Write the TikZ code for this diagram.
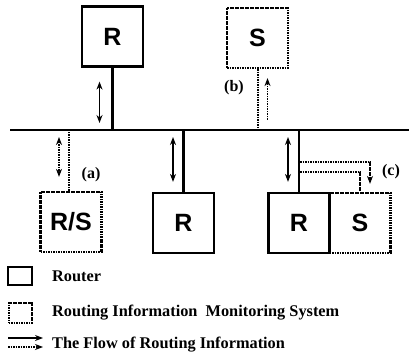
\documentclass[tikz,border=0pt]{standalone}
\usepackage{fontspec}
\setmainfont{Liberation Serif}
\setsansfont{Liberation Sans}
\usetikzlibrary{arrows.meta}

\begin{document}
\begin{tikzpicture}[x=1pt, y=1pt,
    router/.style={draw, line width=2.2pt, minimum width=61pt, minimum height=60pt, inner sep=0pt,
        font=\sffamily\bfseries\fontsize{25}{25}\selectfont},
    monitor/.style={router, dash pattern=on 1.6pt off 0.9pt},
    wire/.style={line width=2.2pt},
    dotwire/.style={line width=2pt, dash pattern=on 1.6pt off 0.9pt},
    flowboth/.style={line width=1.7pt, {Stealth[length=8pt,width=6pt]}-{Stealth[length=8pt,width=6pt]}},
    flowto/.style={line width=1.7pt, -{Stealth[length=8pt,width=6pt]}},
    label/.style={font=\bfseries\fontsize{16}{16}\selectfont, inner sep=0pt},
    keytext/.style={font=\bfseries\fontsize{16.3}{16.3}\selectfont, anchor=west, inner sep=0pt}]
    \useasboundingbox (0,0) rectangle (409,356);
    % network
    \coordinate (busW) at (10,226);
    \coordinate (busE) at (409,226);
    \draw[wire] (busW) -- (busE);
    % router on top
    \node[router] (topR) at (112.5,319.5) {R};
    \draw[wire] (topR.south) -- (topR.south |- busW);
    \draw[flowboth, shorten <=14pt, shorten >=7pt] ([xshift=-13pt]topR.south) -- ([xshift=-13pt]topR.south |- busW);
    % (b)
    \node[monitor] (topS) at (257.5,318) {S};
    \draw[dotwire] (topS.south) -- (topS.south |- busW);
    \draw[dotwire, flowto, shorten <=10pt, shorten >=9pt] ([xshift=10pt]topS.south |- busW) -- ([xshift=10pt]topS.south);
    \node[label] (labB) at (234,268) {(b)};
    % (a)
    \node[monitor] (rs) at (71,134) {R/S};
    \draw[dotwire] ([xshift=-2pt]rs.north) -- ([xshift=-2pt]rs.north |- busW);
    \draw[dotwire, flowboth, shorten <=7pt, shorten >=14pt] ([xshift=-12pt]rs.north |- busW) -- ([xshift=-12pt]rs.north);
    \node[label] (labA) at (91,181) {(a)};
    % router in the middle
    \node[router] (midR) at (183.5,133) {R};
    \draw[wire] (midR.north) -- (midR.north |- busW);
    \draw[flowboth, shorten <=7pt, shorten >=10pt] ([xshift=-10.5pt]midR.north |- busW) -- ([xshift=-10.5pt]midR.north);
    % (c)
    \node[router] (rgtR) at (299,133) {R};
    \node[monitor] (rgtS) at (360,133) {S};
    \draw[wire] (rgtR.north) -- (rgtR.north |- busW);
    \draw[flowboth, shorten <=7pt, shorten >=10pt] ([xshift=-11pt]rgtR.north |- busW) -- ([xshift=-11pt]rgtR.north);
    \coordinate (tapC1) at (300,194);
    \coordinate (tapC2) at (300,184);
    \draw[dotwire, flowto] (tapC1) -| ([xshift=10pt, yshift=8pt]rgtS.north);
    \draw[dotwire] (tapC2) -| (rgtS.north);
    \node[label] (labC) at (391,184) {(c)};
    % legend
    \node[draw, line width=2.2pt, minimum width=24pt, minimum height=18pt] (keyR) at (20,80) {};
    \node[keytext] (txtR) at (52,80) {Router};
    \node[draw, dotwire, minimum width=23pt, minimum height=20pt] (keyS) at (20,43) {};
    \node[keytext] (txtS) at (52,43) {Routing Information\ \ Monitoring System};
    \coordinate (keyA1) at (8,18);
    \coordinate (keyA2) at (8,9);
    \draw[flowto] (keyA1) -- ++(35,0);
    \draw[dotwire, flowto] (keyA2) -- ++(35,0);
    \node[keytext] (txtF) at (52,11) {The Flow of Routing Information};
\end{tikzpicture}
\end{document}
